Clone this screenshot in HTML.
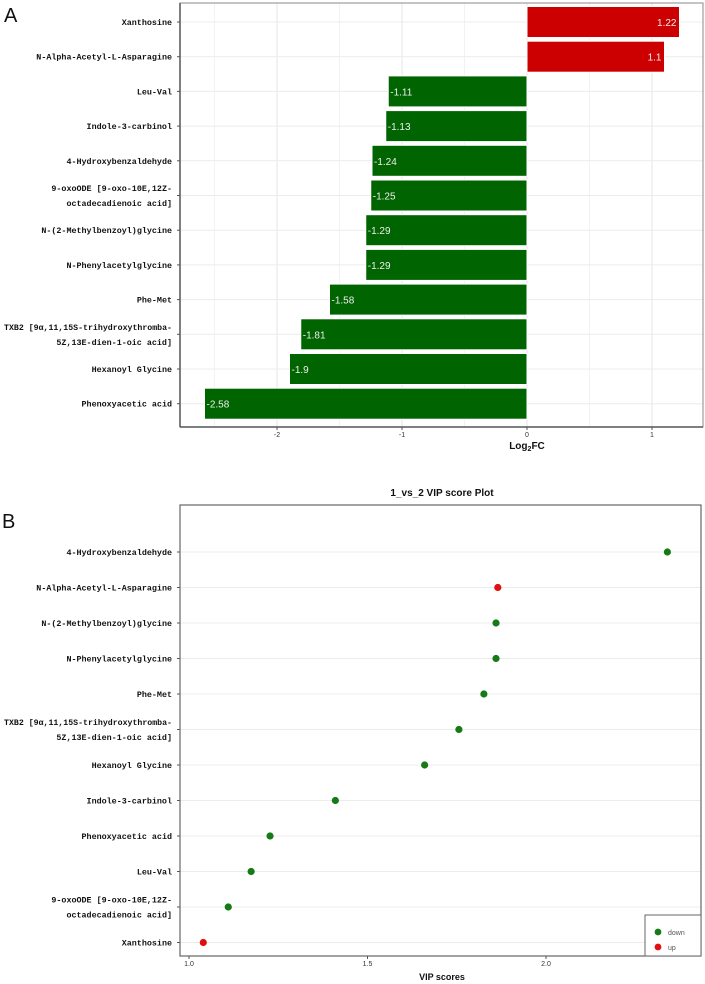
<!DOCTYPE html>
<html><head><meta charset="utf-8">
<style>
html,body{margin:0;padding:0;background:#fff;}
svg{display:block;}
text{font-family:"Liberation Mono","Noto Sans CJK SC",monospace;}
.lab{font-size:8.4px;font-weight:bold;fill:#111;}
.sans{font-family:"Liberation Sans",sans-serif;}
</style></head>
<body>
<svg id="chart" width="705" height="984" viewBox="0 0 705 984" xmlns="http://www.w3.org/2000/svg">
<text x="4" y="22" class="sans" font-size="20" fill="#111">A</text>
<text x="2" y="528" class="sans" font-size="20" fill="#111">B</text>
<g id="ga"></g>
<g id="gb"></g>
</svg>
<script>
const fcCategories = [["Xanthosine"],["N-Alpha-Acetyl-L-Asparagine"],["Leu-Val"],["Indole-3-carbinol"],["4-Hydroxybenzaldehyde"],["9-oxoODE [9-oxo-10E,12Z-","octadecadienoic acid]"],["N-(2-Methylbenzoyl)glycine"],["N-Phenylacetylglycine"],["Phe-Met"],["TXB2 [9\u03b1,11,15S-trihydroxythromba-","5Z,13E-dien-1-oic acid]"],["Hexanoyl Glycine"],["Phenoxyacetic acid"]];
const fcValues = [1.22,1.1,-1.11,-1.13,-1.24,-1.25,-1.29,-1.29,-1.58,-1.81,-1.9,-2.58];
const fcTicks = [-2,-1,0,1];

const vipCategories = [["4-Hydroxybenzaldehyde"],["N-Alpha-Acetyl-L-Asparagine"],["N-(2-Methylbenzoyl)glycine"],["N-Phenylacetylglycine"],["Phe-Met"],["TXB2 [9\u03b1,11,15S-trihydroxythromba-","5Z,13E-dien-1-oic acid]"],["Hexanoyl Glycine"],["Indole-3-carbinol"],["Phenoxyacetic acid"],["Leu-Val"],["9-oxoODE [9-oxo-10E,12Z-","octadecadienoic acid]"],["Xanthosine"]];
const vipValues = [2.34,1.865,1.86,1.86,1.826,1.756,1.66,1.41,1.227,1.174,1.11,1.04];
const vipGroups = ["down","up","down","down","down","down","down","down","down","down","down","up"];
const vipTicks = [1.0,1.5,2.0];

const NS="http://www.w3.org/2000/svg";
function mk(parent,tag,attrs,txt){const e=document.createElementNS(NS,tag);for(const k in attrs)e.setAttribute(k,attrs[k]);if(txt!==undefined)e.textContent=txt;parent.appendChild(e);return e;}
function label(g,x,y,ln){
 const t=mk(g,'text',{x:x,y:y,'text-anchor':'end',class:'lab'},ln);
 if(ln.length>30){t.setAttribute('textLength',168);t.setAttribute('lengthAdjust','spacingAndGlyphs');}
 
 
}

// Panel A
const ga=document.getElementById('ga');
const A={l:180,r:703,t:3,b:427};
const xA=v=>527+v*125;
const yA=i=>22+i*34.7;
const bandA=31;
for(let v=-2.5;v<=1.5;v+=0.5){const x=xA(v);if(x<A.l||x>A.r)continue;
 const g=mk(ga,'line',{x1:x,x2:x,y1:A.t,y2:A.b,stroke:Number.isInteger(v)?'#e6e6e6':'#f2f2f2','stroke-width':1});
 }
fcCategories.forEach((c,i)=>{const y=yA(i);mk(ga,'line',{x1:A.l,x2:A.r,y1:y,y2:y,stroke:'#ececec'});});
fcValues.forEach((v,i)=>{
 const x0=xA(Math.min(0,v)),w=Math.abs(xA(v)-xA(0));
 const r=mk(ga,'rect',{x:x0,y:yA(i)-bandA/2,width:w,height:bandA,fill:v>0?'#cc0000':'#006400',stroke:'#fff','stroke-width':1});
 
 const t=mk(ga,'text',{x:v>0?xA(v)-3:xA(v)+2,y:yA(i)+4,'font-size':10,fill:'#eee','text-anchor':v>0?'end':'start',class:'sans'},String(v));
 
});
fcCategories.forEach((c,i)=>{
 const y=yA(i);mk(ga,'line',{x1:A.l-3,x2:A.l,y1:y,y2:y,stroke:'#555'});
 c.forEach((ln,k)=>label(ga,A.l-8,y+3+(k-(c.length-1)/2)*15,ln));
});
mk(ga,'rect',{x:A.l,y:A.t,width:A.r-A.l,height:A.b-A.t,fill:'none',stroke:'#888','stroke-width':1});
mk(ga,'line',{x1:A.l,x2:A.r,y1:A.b,y2:A.b,stroke:'#555','stroke-width':1.5});
mk(ga,'line',{x1:A.l,x2:A.l,y1:A.t,y2:A.b,stroke:'#555','stroke-width':1.5});
fcTicks.forEach(v=>{const x=xA(v);mk(ga,'line',{x1:x,x2:x,y1:A.b,y2:A.b+3,stroke:'#555'});
 const t=mk(ga,'text',{x:x,y:A.b+10,'font-size':7,'text-anchor':'middle',class:'sans',fill:'#333'},String(v));
 });
const at=mk(ga,'text',{x:xA(0),y:A.b+22,'font-size':10,'font-weight':'bold','text-anchor':'middle',class:'sans',fill:'#111'});

at.innerHTML='Log<tspan font-size="7" dy="2">2</tspan><tspan dy="-2">FC</tspan>';

// Panel B
const gb=document.getElementById('gb');
const B={l:180,r:701,t:505,b:956};
const xB=v=>189+(v-1)*357;
const yB=i=>552+i*35.5;
const tt=mk(gb,'text',{x:442,y:496,'font-size':10,'font-weight':'bold','text-anchor':'middle',class:'sans',fill:'#111'},'1_vs_2 VIP score Plot');

vipCategories.forEach((c,i)=>{const y=yB(i);mk(gb,'line',{x1:B.l,x2:B.r,y1:y,y2:y,stroke:'#ececec'});
 mk(gb,'line',{x1:B.l-3,x2:B.l,y1:y,y2:y,stroke:'#555'});
 c.forEach((ln,k)=>label(gb,B.l-8,y+3+(k-(c.length-1)/2)*15,ln));
});
vipValues.forEach((v,i)=>{
 const p=mk(gb,'circle',{cx:xB(v),cy:yB(i),r:3.6,fill:vipGroups[i]==='up'?'#e01010':'#167a16'});
 
});
mk(gb,'rect',{x:B.l,y:B.t,width:B.r-B.l,height:B.b-B.t,fill:'none',stroke:'#666','stroke-width':1.2});
vipTicks.forEach(v=>{const x=xB(v);mk(gb,'line',{x1:x,x2:x,y1:B.b,y2:B.b+3,stroke:'#555'});
 const t=mk(gb,'text',{x:x,y:B.b+10,'font-size':7,'text-anchor':'middle',class:'sans',fill:'#333'},v.toFixed(1));
 });
const bt=mk(gb,'text',{x:442,y:980,'font-size':9,'font-weight':'bold','text-anchor':'middle',class:'sans',fill:'#111'},'VIP scores');

const lg=mk(gb,'g',{});

mk(lg,'rect',{x:645,y:915,width:56,height:41,fill:'#fff',stroke:'#666'});
[["down","#167a16",932],["up","#e01010",947]].forEach(e=>{
 const c=mk(lg,'circle',{cx:658,cy:e[2],r:3.4,fill:e[1]});
 
 mk(lg,'text',{x:668,y:e[2]+3,'font-size':7,class:'sans',fill:'#555'},e[0]);
});
</script>
</body></html>
